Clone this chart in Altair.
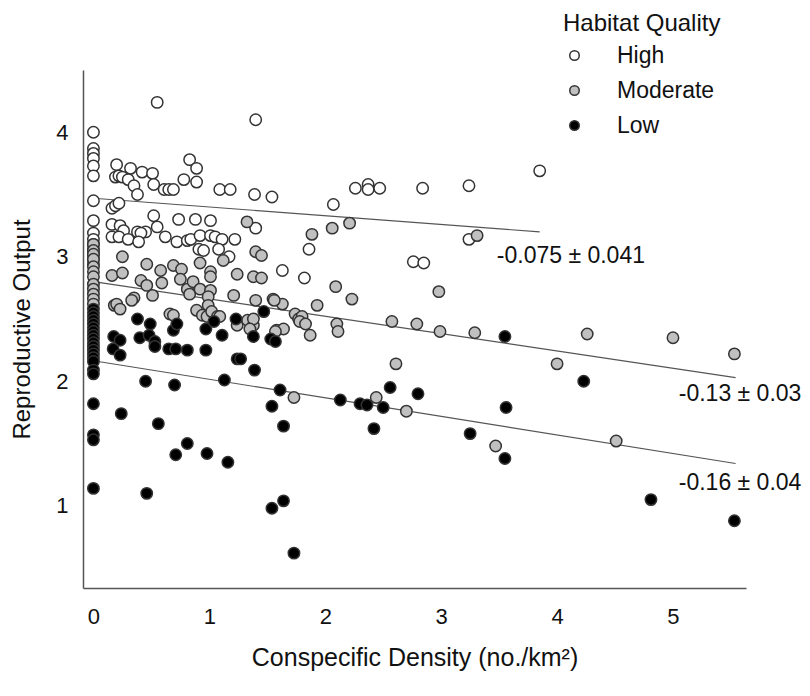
import altair as alt
import pandas as pd

# ---- data ----
high_x = [0, 0, 0, 0, 0, 0, 0, 0, 0, 0, 0, 0, 0, 0, 0,
          0.55, 1.40, 0.20, 0.19, 0.22, 0.25, 0.32, 0.30, 0.35, 0.38, 0.42, 0.51, 0.52,
          0.61, 0.65, 0.69, 0.78, 0.83, 0.89, 0.89, 1.09, 1.18, 1.39, 1.54, 0.16, 0.19,
          0.22, 0.16, 0.23, 0.26, 0.16, 0.22, 0.30, 0.38, 0.45, 0.41, 0.39, 0.52, 0.55,
          0.62, 0.735, 0.72, 0.81, 0.84, 0.88, 0.92, 0.91, 0.95, 1.01, 1.01, 1.05, 1.11,
          1.08, 1.17, 1.22, 1.40, 1.63, 1.82, 1.86, 2.07, 2.26, 2.37, 2.37, 2.47, 2.84,
          3.24, 3.85, 3.24, 2.76, 2.85]
high_y = [4.00, 3.87, 3.83, 3.79, 3.73, 3.65, 3.45, 3.29, 3.19, 3.14, 3.10, 3.06, 3.02, 2.98, 2.94,
          4.24, 4.10, 3.74, 3.64, 3.65, 3.64, 3.71, 3.62, 3.57, 3.50, 3.68, 3.67, 3.58,
          3.54, 3.54, 3.54, 3.62, 3.78, 3.71, 3.60, 3.54, 3.54, 3.50, 3.48, 3.39, 3.41,
          3.43, 3.26, 3.25, 3.21, 3.16, 3.16, 3.14, 3.20, 3.20, 3.19, 3.12, 3.33, 3.24,
          3.16, 3.30, 3.12, 3.13, 3.14, 3.30, 3.17, 3.06, 3.05, 3.29, 3.17, 3.16, 3.14,
          3.06, 3.00, 3.14, 3.23, 2.89, 2.83, 3.06, 3.42, 3.55, 3.58, 3.54, 3.55, 3.55,
          3.57, 3.69, 3.14, 2.96, 2.95]

mod_x = [0, 0, 0, 0, 0, 0, 0, 0, 0, 0, 0, 0,
         1.325, 1.40, 1.45, 0.25, 0.16, 0.25, 0.46, 0.58, 0.69, 0.76, 0.92, 1.01, 1.01,
         1.12, 1.24, 1.38, 1.45, 0.41, 0.46, 0.51, 0.59, 0.75, 0.81, 0.86, 0.83, 0.92,
         1.01, 0.99, 0.99, 1.21, 1.40, 1.55, 1.63, 0.35, 0.18, 0.20, 0.23, 0.33, 0.66,
         0.69, 0.89, 0.94, 0.98, 1.02, 1.07, 1.09, 1.24, 1.33, 1.38, 1.58, 1.64, 1.74,
         1.77, 1.80, 1.78, 1.83, 1.87, 1.885, 2.06, 2.21, 2.09, 2.23, 1.56, 1.93, 2.10,
         2.11, 2.575, 2.79, 1.38, 1.35, 1.57, 2.61, 1.73, 2.44, 2.70, 2.98, 2.99, 3.29,
         3.31, 4.26, 5.00, 5.53, 4.00, 3.47, 4.51]
mod_y = [3.10, 3.05, 3.02, 2.98, 2.92, 2.88, 2.84, 2.78, 2.74, 2.70, 2.66, 2.62,
         3.28, 3.04, 3.01, 3.00, 2.85, 2.87, 2.94, 2.89, 2.93, 2.90, 2.95, 2.88, 2.84,
         2.97, 2.86, 2.84, 2.83, 2.81, 2.77, 2.69, 2.79, 2.82, 2.74, 2.80, 2.70, 2.74,
         2.73, 2.68, 2.61, 2.69, 2.65, 2.66, 2.62, 2.67, 2.61, 2.62, 2.58, 2.65, 2.54,
         2.53, 2.57, 2.53, 2.52, 2.56, 2.52, 2.52, 2.45, 2.49, 2.45, 2.41, 2.42, 2.54,
         2.50, 2.52, 2.48, 2.46, 2.37, 3.18, 3.23, 3.27, 2.76, 2.66, 2.65, 2.61, 2.46,
         2.40, 2.48, 2.46, 2.50, 2.42, 2.40, 2.14, 1.87, 1.87, 1.76, 2.72, 2.40, 2.39,
         3.17, 2.38, 2.35, 2.22, 2.14, 1.48, 1.52]

low_x = [0, 0, 0, 0, 0, 0, 0, 0, 0, 0, 0, 0, 0, 0, 0, 0, 0, 0, 0, 0, 0,
         0.38, 0.49, 0.175, 0.23, 0.17, 0.23, 0.40, 0.48, 0.53, 0.53, 0.65, 0.71, 0.81,
         0.97, 0.69, 0.72, 0.97, 1.04, 1.11, 1.23, 1.24, 1.13, 0.45, 0.70, 0.24, 0.56,
         0.81, 0.71, 0.98, 1.16, 0.46, 1.47, 1.38, 1.53, 1.57, 1.27, 1.39, 1.61, 1.54,
         1.64, 2.13, 2.30, 2.36, 2.50, 2.56, 2.42, 2.80, 1.54, 1.64, 1.73, 3.55, 4.23,
         3.56, 3.25, 3.55, 4.81, 5.53]
low_y = [2.58, 2.55, 2.52, 2.49, 2.46, 2.43, 2.40, 2.37, 2.34, 2.31, 2.28, 2.25, 2.22, 2.19,
         2.16, 2.09, 2.06, 1.82, 1.57, 1.53, 1.14,
         2.50, 2.46, 2.36, 2.33, 2.26, 2.21, 2.35, 2.37, 2.32, 2.28, 2.26, 2.26, 2.25,
         2.25, 2.41, 2.46, 2.42, 2.48, 2.37, 2.50, 2.18, 2.01, 2.00, 1.97, 1.74, 1.66,
         1.50, 1.41, 1.42, 1.35, 1.10, 2.56, 2.36, 2.34, 2.32, 2.18, 2.09, 1.93, 1.80,
         1.64, 1.85, 1.82, 1.81, 1.79, 1.95, 1.62, 1.90, 0.98, 1.04, 0.62, 2.36, 2.00,
         1.79, 1.58, 1.38, 1.05, 0.88]

groups = ["High", "Moderate", "Low"]
fill_colors = ["#ffffff", "#c0c0c0", "#000000"]

# fitted lines (endpoints)
line_x0 = [0.0, 0.0, 0.0]
line_x1 = [3.85, 5.54, 5.54]
line_y0 = [3.47, 2.80, 2.165]
line_y1 = [3.20, 2.03, 1.34]

# slope annotations
ann_text = ["-0.075 \u00b1 0.041", "-0.13 \u00b1 0.03", "-0.16 \u00b1 0.04"]
ann_x = [3.48, 5.05, 5.05]
ann_y = [3.01, 1.895, 1.185]

# ---- build tables ----
rows = []
for g, xs, ys in zip(groups, [high_x, mod_x, low_x], [high_y, mod_y, low_y]):
    for a, b in zip(xs, ys):
        rows.append({"x": a, "y": b, "Habitat": g})
pts = pd.DataFrame(rows)
lines = pd.DataFrame({"x": line_x0, "x2": line_x1, "y": line_y0, "y2": line_y1, "g": groups})
ann = pd.DataFrame({"x": ann_x, "y": ann_y, "t": ann_text})

FONT = "Liberation Sans"
xscale = alt.Scale(domain=[-0.09, 5.63], nice=False, zero=False)
yscale = alt.Scale(domain=[0.34, 4.5], nice=False, zero=False)

xax = alt.Axis(values=[0, 1, 2, 3, 4, 5], format="d",
               title="Conspecific Density (no./km\u00b2)",
               labelPadding=18, titlePadding=18, titleFontSize=25)
yax = alt.Axis(values=[1, 2, 3, 4], format="d", title="Reproductive Output",
               labelPadding=15, titlePadding=21)

rules = alt.Chart(lines).mark_rule(color="#555555", strokeWidth=1.2).encode(
    x=alt.X("x:Q", scale=xscale, axis=xax),
    x2="x2:Q",
    y=alt.Y("y:Q", scale=yscale, axis=yax),
    y2="y2:Q",
)

points = alt.Chart(pts).mark_circle(size=130, opacity=1, stroke="#333333", strokeWidth=1.5).encode(
    x=alt.X("x:Q", scale=xscale, axis=xax),
    y=alt.Y("y:Q", scale=yscale, axis=yax),
    fill=alt.Fill("Habitat:N", scale=alt.Scale(domain=groups, range=fill_colors),
                  sort=groups,
                  legend=alt.Legend(title="Habitat Quality", orient="none",
                                    legendX=480, legendY=-58,
                                    titleFont=FONT, titleFontSize=24, titleFontWeight="normal",
                                    titleColor="#111111", titlePadding=8,
                                    labelFont=FONT, labelFontSize=23, labelColor="#111111",
                                    labelOffset=31, rowPadding=11,
                                    symbolType="circle", symbolSize=90,
                                    symbolStrokeColor="#333333", symbolStrokeWidth=1.5,
                                    symbolOpacity=1)),
)

texts = alt.Chart(ann).mark_text(align="left", baseline="middle", font=FONT,
                                 fontSize=23, color="#111111").encode(
    x=alt.X("x:Q", scale=xscale),
    y=alt.Y("y:Q", scale=yscale),
    text="t:N",
)

chart = alt.layer(rules, points, texts).properties(
    width=663, height=518,
    padding={"left": 83, "top": 70, "right": 64, "bottom": 108},
    autosize=alt.AutoSizeParams(type="none"),
).configure_view(stroke=None).configure_axis(
    domainColor="#555555", domainWidth=1.5, ticks=False, tickSize=0, grid=False,
    labelFont=FONT, labelFontSize=22, labelColor="#111111",
    titleFont=FONT, titleFontSize=24, titleFontWeight="normal", titleColor="#111111",
)

chart.save("out.html", embed_options={"renderer": "svg", "actions": False})
